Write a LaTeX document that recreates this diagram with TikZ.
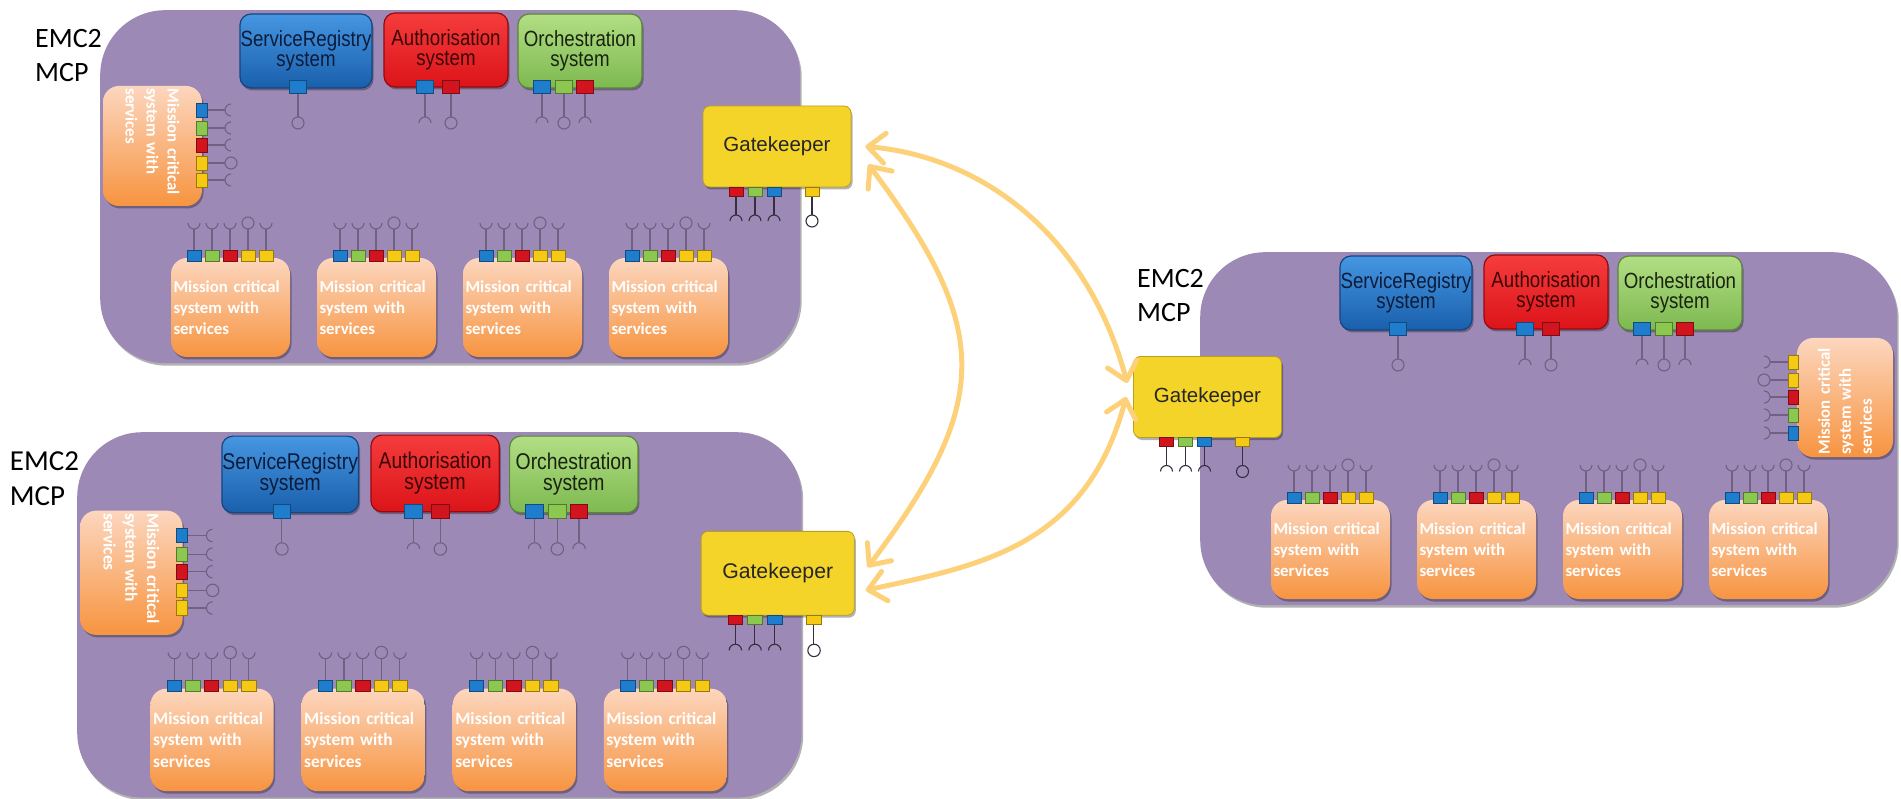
\documentclass[tikz,border=0pt]{standalone}
\usepackage{fontspec}
\usepackage{xcolor}
\usepackage{tikz}
\usetikzlibrary{arrows.meta,shadows}

\newfontfamily\labfont{Carlito}
\newfontfamily\sysfont[FakeStretch=0.85]{Liberation Sans}
\newfontfamily\gkfont{Liberation Sans}

\definecolor{cloudpurple}{RGB}{157,137,182}
\definecolor{ifgray}{RGB}{112,96,130}
\definecolor{ifdark}{RGB}{55,45,65}
\definecolor{pblue}{RGB}{30,125,205}
\definecolor{pgreen}{RGB}{140,200,80}
\definecolor{pred}{RGB}{210,20,30}
\definecolor{pyellow}{RGB}{246,202,20}
\definecolor{gkyellow}{RGB}{245,212,42}
\definecolor{mclight}{RGB}{252,214,190}
\definecolor{mcdark}{RGB}{247,148,64}
\definecolor{linkcol}{RGB}{253,209,122}
\definecolor{srtop}{RGB}{70,150,225}
\definecolor{srbot}{RGB}{25,95,172}
\definecolor{srline}{RGB}{20,70,130}
\definecolor{srtxt}{RGB}{12,28,58}
\definecolor{authtop}{RGB}{245,60,60}
\definecolor{authbot}{RGB}{220,20,25}
\definecolor{authline}{RGB}{150,10,15}
\definecolor{authtxt}{RGB}{60,5,5}
\definecolor{orchtop}{RGB}{178,222,132}
\definecolor{orchbot}{RGB}{125,185,80}
\definecolor{orchline}{RGB}{90,135,55}
\definecolor{orchtxt}{RGB}{25,35,15}

\tikzset{
  softshadow/.style={drop shadow={shadow xshift=1.5pt, shadow yshift=-2.5pt, opacity=0.3, fill=black}},
  cloud/.style={fill=cloudpurple, rounded corners=65pt, inner sep=0pt, softshadow},
  lbl/.style={font=\labfont\fontsize{28}{34}\selectfont, align=left, inner sep=0pt, anchor=north west},
  coresys/.style={rounded corners=11pt, line width=1.2pt, top color=#1top, bottom color=#1bot, draw=#1line, text=#1txt,
    minimum height=74pt, inner sep=0pt, align=center, font=\sysfont\fontsize{22}{20}\selectfont, softshadow},
  gatebox/.style={fill=gkyellow, draw=gkyellow!75!black, line width=0.8pt, rounded corners=7pt, minimum width=148pt,
    minimum height=81pt, text=black!85, font=\gkfont\fontsize{20.5}{24}\selectfont, softshadow},
  mcbox/.style={rounded corners=16pt, top color=mclight, bottom color=mcdark, minimum width=119pt, minimum height=99pt,
    inner xsep=2.5pt, inner ysep=0pt, text width=114pt, align=left, text=white,
    font=\labfont\bfseries\fontsize{16.8}{21}\selectfont, softshadow},
  ifline/.style={draw=ifgray, line width=1.1pt},
  port/.style={fill=#1, draw=#1!60!black, line width=0.6pt},
  link/.style={draw=linkcol, line width=5pt, line cap=round,
    {Straight Barb[length=17pt,width=30pt,round]}-{Straight Barb[length=17pt,width=30pt,round]}}
}

\newcommand{\lollipop}[3][ifline]{\draw[#1] (#2) ++({#3}:6) circle (6);}
\newcommand{\socket}[3][ifline]{\draw[#1] (#2) ++({#3}:6) ++({#3+90}:6) arc[start angle={#3+90}, delta angle=180, radius=6];}

\newcommand{\corerow}[1]{%
  \node[coresys=sr, minimum width=132pt] (#1-sr) at (206,41) {ServiceRegistry\\system};
  \node[coresys=auth, minimum width=124pt] (#1-auth) at (346,40) {Authorisation\\system};
  \node[coresys=orch, minimum width=124pt] (#1-orch) at (480,41) {Orchestration\\system};
  \foreach \px/\pc/\pt in {198/pblue/lollipop, 325/pblue/socket, 351/pred/lollipop, 442/pblue/socket, 464/pgreen/lollipop, 485/pred/socket}{
    \draw[ifline] (\px,83) -- (\px,107) coordinate (ifend);
    \csname\pt\endcsname{ifend}{90}
    \draw[port=\pc] (\px-8.5,70) rectangle (\px+8.5,83);
  }
}

\newcommand{\mcrow}[1]{%
  \foreach \i in {1,...,4}{
    \pgfmathsetmacro\bl{71+146*(\i-1)}
    \node[mcbox] (#1-mc\i) at (\bl+59.5,297.5) {Mission critical\\system with\\services};
    \foreach \dx/\pc/\pt in {23/pblue/socket, 41/pgreen/socket, 59/pred/socket, 77/pyellow/lollipop, 95/pyellow/socket}{
      \draw[ifline] (\bl+\dx,240) -- (\bl+\dx,219) coordinate (ifend);
      \csname\pt\endcsname{ifend}{270}
      \draw[port=\pc] (\bl+\dx-7,240) rectangle (\bl+\dx+7,251);
    }
  }
}

\newcommand{\gatekeeper}[3]{%
  \node[gatebox] (#1) at (#2,#3) {Gatekeeper};
  \foreach \dx/\pc/\pt in {-41/pred/socket, -22/pgreen/socket, -3/pblue/socket, 35/pyellow/lollipop}{
    \draw[ifline, draw=ifdark] (#2+\dx,#3+49.5) -- (#2+\dx,#3+68.5) coordinate (ifend);
    \csname\pt\endcsname[ifline,draw=ifdark]{ifend}{90}
    \draw[port=\pc] (#2+\dx-7,#3+40.5) rectangle (#2+\dx+7,#3+49.5);
  }
}

\newcommand{\leftmcp}[2]{%
  \node[cloud, minimum width=700pt, minimum height=353pt, anchor=north west] (#1-cloud) at (0,0) {};
  \node[lbl] (#1-lbl) at (-65,19) {EMC2\\MCP};
  \corerow{#1}
  \mcrow{#1}
  \node[mcbox, rotate=-90, minimum width=120pt, text width=115pt] (#1-mcs) at (52.5,136) {Mission critical\\system with\\services};
  \foreach \py/\pc/\pt in {100/pblue/socket, 118/pgreen/socket, 135/pred/socket, 153/pyellow/lollipop, 170/pyellow/socket}{
    \draw[ifline] (107,\py) -- (125,\py) coordinate (ifend);
    \csname\pt\endcsname{ifend}{0}
    \draw[port=\pc] (96,\py-7) rectangle (107,\py+7);
  }
  \gatekeeper{#2}{677}{136.5}
}

\begin{document}
\begin{tikzpicture}[x=1pt, y=-1pt]
  \useasboundingbox (0,0) rectangle (1901,799);

  \begin{scope}[shift={(100,10)}]
    \leftmcp{A}{gkA}
  \end{scope}

  \begin{scope}[shift={(77,432)}, scale=1.035, transform shape]
    \leftmcp{B}{gkB}
  \end{scope}

  \begin{scope}[shift={(1200,252)}]
    \node[cloud, minimum width=697pt, minimum height=353pt, anchor=north west] (C-cloud) at (0,0) {};
    \node[lbl] (C-lbl) at (-63,17) {EMC2\\MCP};
    \corerow{C}
    \mcrow{C}
    \node[mcbox, rotate=90, minimum width=119pt, minimum height=96pt, text width=114pt] (C-mcs) at (645,145.5) {Mission critical\\system with\\services};
    \foreach \py/\pc/\pt in {110/pyellow/socket, 128/pyellow/lollipop, 145/pred/socket, 163/pgreen/socket, 181/pblue/socket}{
      \draw[ifline] (588,\py) -- (570,\py) coordinate (ifend);
      \csname\pt\endcsname{ifend}{180}
      \draw[port=\pc] (588,\py-7) rectangle (598,\py+7);
    }
    \gatekeeper{gkC}{7.5}{145}
  \end{scope}

  \draw[link] ([xshift=14pt]gkA.east) .. controls +(115,10) and +(-40,-150) .. ([xshift=-6pt,yshift=14pt]gkC.west);
  \draw[link] ([xshift=17pt,yshift=-18pt]gkA.east) .. controls +(124,165) and +(124,-165) .. ([xshift=13pt,yshift=6pt]gkB.east);
  \draw[link] ([xshift=11pt,yshift=-17pt]gkB.east) .. controls +(115,-25) and +(-40,150) .. ([xshift=-7pt]gkC.west);
\end{tikzpicture}
\end{document}
